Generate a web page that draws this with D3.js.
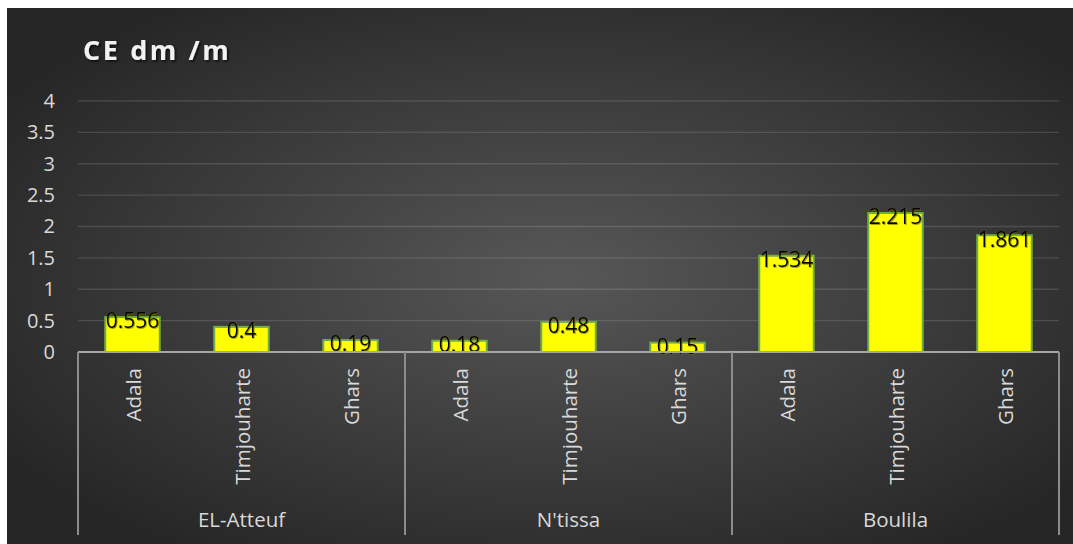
<!DOCTYPE html>
<html>
<head>
<meta charset="utf-8">
<script src="https://cdn.jsdelivr.net/npm/d3@7"></script>
<style>
  html, body { margin: 0; padding: 0; background: #ffffff; }
  svg { display: block; }
</style>
</head>
<body>
<svg id="chart" width="1073" height="544"></svg>
<script>
// Soil electrical conductivity (CE, dm/m) by site within each region
const regions = ["EL-Atteuf", "N'tissa", "Boulila"];
const sites = ["Adala", "Timjouharte", "Ghars"];
const ceValues = [
  [0.556, 0.4, 0.19],
  [0.18, 0.48, 0.15],
  [1.534, 2.215, 1.861]
];
const yTicks = [0, 0.5, 1, 1.5, 2, 2.5, 3, 3.5, 4];
const yTickLabels = ["0", "0.5", "1", "1.5", "2", "2.5", "3", "3.5", "4"];
const titleText = "CE dm /m";

const rows = [];
regions.forEach((r, i) => sites.forEach((s, j) => rows.push({ key: r + "|" + s, region: r, site: s, value: ceValues[i][j] })));

const W = 1073, H = 544;
const panel = { x: 7, y: 8, w: W - 7, h: H - 8 };
const plot = { left: 78, right: 1059, top: 101, bottom: 352 };
const FONT = "'Open Sans', 'Noto Sans', sans-serif";

const svg = d3.select("#chart");
const defs = svg.append("defs");

const grad = defs.append("radialGradient").attr("id", "bgGrad")
  .attr("cx", "52%").attr("cy", "50%").attr("r", "62%");
grad.append("stop").attr("offset", "0%").attr("stop-color", "#575757");
grad.append("stop").attr("offset", "100%").attr("stop-color", "#262626");

const shadow = defs.append("filter").attr("id", "titleShadow")
  .attr("x", "-10%").attr("y", "-30%").attr("width", "130%").attr("height", "170%");
shadow.append("feDropShadow").attr("dx", 1.5).attr("dy", 1.5).attr("stdDeviation", 1.2)
  .attr("flood-color", "#000").attr("flood-opacity", 0.75);

const glow = defs.append("filter").attr("id", "labelGlow")
  .attr("x", "-10%").attr("y", "-30%").attr("width", "130%").attr("height", "170%");
glow.append("feDropShadow").attr("dx", 0.8).attr("dy", 0.8).attr("stdDeviation", 0.6)
  .attr("flood-color", "#6b6b00").attr("flood-opacity", 0.8);

svg.append("rect")
  .attr("x", panel.x).attr("y", panel.y).attr("width", panel.w).attr("height", panel.h)
  .attr("fill", "url(#bgGrad)");

const x = d3.scaleBand().domain(rows.map(d => d.key))
  .range([plot.left, plot.right]).paddingInner(0.5).paddingOuter(0.25);
const y = d3.scaleLinear().domain([0, 4]).range([plot.bottom, plot.top]);

// horizontal gridlines
svg.append("g").selectAll("line").data(yTicks.filter(t => t > 0)).join("line")
  .attr("x1", plot.left).attr("x2", plot.right)
  .attr("y1", d => y(d)).attr("y2", d => y(d))
  .attr("stroke", "rgba(255,255,255,0.13)").attr("stroke-width", 1.3);

// y axis labels
const yAxis = d3.axisLeft(y).tickValues(yTicks)
  .tickFormat((d, i) => yTickLabels[i]).tickSize(0).tickPadding(0);
const yg = svg.append("g").attr("transform", `translate(${55},0)`).call(yAxis);
yg.select(".domain").remove();
yg.selectAll("text").attr("fill", "#d9d9d9").attr("font-family", FONT).attr("font-size", 20);

// bars
svg.append("g").selectAll("rect").data(rows).join("rect")
  .attr("x", d => x(d.key)).attr("width", x.bandwidth())
  .attr("y", d => y(d.value)).attr("height", d => y(0) - y(d.value))
  .attr("fill", "#ffff00").attr("stroke", "#70ad47").attr("stroke-width", 2);

// value labels
svg.append("g").selectAll("text").data(rows).join("text")
  .attr("x", d => x(d.key) + x.bandwidth() / 2)
  .attr("y", d => y(d.value) + 4)
  .attr("dy", "0.35em")
  .attr("text-anchor", "middle")
  .attr("font-family", FONT).attr("font-size", 21)
  .attr("fill", "#000").attr("filter", "url(#labelGlow)")
  .text(d => d.value);

// category axis line
svg.append("line")
  .attr("x1", plot.left).attr("x2", plot.right)
  .attr("y1", plot.bottom).attr("y2", plot.bottom)
  .attr("stroke", "#a6a6a6").attr("stroke-width", 2);

// group separators
const groupEdges = regions.map(r => x(r + "|" + sites[0]) - (x.step() - x.bandwidth()) / 2);
groupEdges.push(plot.right);
svg.append("g").selectAll("line").data(groupEdges).join("line")
  .attr("x1", d => d).attr("x2", d => d)
  .attr("y1", plot.bottom).attr("y2", 535)
  .attr("stroke", "#8c8c8c").attr("stroke-width", 2);

// site labels (rotated)
svg.append("g").selectAll("text").data(rows).join("text")
  .attr("transform", d => `translate(${x(d.key) + x.bandwidth() / 2 + 8},368) rotate(-90)`)
  .attr("text-anchor", "end")
  .attr("font-family", FONT).attr("font-size", 20.5)
  .attr("fill", "#d9d9d9")
  .text(d => d.site);

// region labels
svg.append("g").selectAll("text").data(regions).join("text")
  .attr("x", (d, i) => (groupEdges[i] + groupEdges[i + 1]) / 2)
  .attr("y", 527)
  .attr("text-anchor", "middle")
  .attr("font-family", FONT).attr("font-size", 20.5)
  .attr("fill", "#d9d9d9")
  .text(d => d);

// title
svg.append("text")
  .attr("x", 83).attr("y", 60)
  .attr("font-family", FONT).attr("font-size", 27).attr("font-weight", "bold")
  .attr("letter-spacing", 2.6)
  .attr("fill", "#f2f2f2").attr("filter", "url(#titleShadow)")
  .text(titleText);
</script>
</body>
</html>
